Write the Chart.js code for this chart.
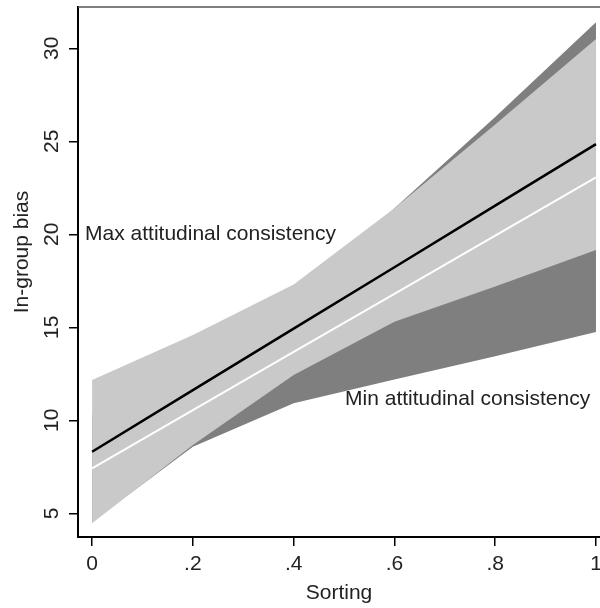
<!DOCTYPE html>
<html>
<head>
<meta charset="utf-8">
<script src="https://cdn.jsdelivr.net/npm/chart.js@4/dist/chart.umd.min.js"></script>
<style>
  html, body { margin: 0; padding: 0; background: #fff; }
  canvas { display: block; }
</style>
</head>
<body>
<canvas id="biasChart" width="600" height="608"></canvas>
<script>
// --- données ---
const sorting = [0, 0.2, 0.4, 0.6, 0.8, 1];
const maxFit = [8.31, 11.62, 14.93, 18.23, 21.54, 24.85];
const maxLower = [4.46, 8.67, 12.44, 15.3, 17.2, 19.15];
const maxUpper = [12.17, 14.59, 17.3, 21.4, 25.9, 30.5];
const minFit = [7.42, 10.55, 13.68, 16.8, 19.93, 23.06];
const minLower = [4.55, 8.58, 10.92, 12.2, 13.45, 14.75];
const minUpper = [10.3, 12.5, 16.44, 21.4, 26.3, 31.4];
const yTickValues = [5, 10, 15, 20, 25, 30];

const FONT = '"Liberation Sans", Arial, sans-serif';
const TEXT = '#222';

const pts = (ys) => sorting.map((x, i) => ({ x: x, y: ys[i] }));

function band(values, color, fill) {
    return { data: pts(values), borderWidth: 0, pointRadius: 0, backgroundColor: color, fill: fill, tension: 0 };
}

// textes dessinés à la main : étiquettes Y tournées, titre Y, libellés des courbes, bord du haut
const extrasPlugin = {
    id: 'extras',
    afterDraw(chart) {
        const ctx = chart.ctx;
        const y = chart.scales.y;
        const x = chart.scales.x;
        const area = chart.chartArea;
        ctx.save();

        // ligne du haut (cadre)
        ctx.strokeStyle = '#555';
        ctx.lineWidth = 1.5;
        ctx.beginPath();
        ctx.moveTo(area.left, area.top);
        ctx.lineTo(area.right, area.top);
        ctx.stroke();

        ctx.fillStyle = TEXT;
        ctx.font = `21px ${FONT}`;
        ctx.textAlign = 'center';
        ctx.textBaseline = 'middle';
        yTickValues.forEach(v => {
            ctx.save();
            ctx.translate(52, y.getPixelForValue(v));
            ctx.rotate(-Math.PI / 2);
            ctx.fillText(String(v), 0, 0);
            ctx.restore();
        });

        ctx.save();
        ctx.translate(22, 252);
        ctx.rotate(-Math.PI / 2);
        ctx.fillText('In-group bias', 0, 0);
        ctx.restore();

        ctx.textAlign = 'left';
        ctx.fillText('Max attitudinal consistency', x.getPixelForValue(-0.014), y.getPixelForValue(19.98));
        ctx.fillText('Min attitudinal consistency', x.getPixelForValue(0.502), y.getPixelForValue(11.12));
        ctx.restore();
    }
};

new Chart(document.getElementById('biasChart'), {
    type: 'line',
    data: {
        datasets: [
            { data: pts(maxFit), borderColor: '#000', borderWidth: 2.5, pointRadius: 0, fill: false, tension: 0 },
            { data: pts(minFit), borderColor: '#fff', borderWidth: 2, pointRadius: 0, fill: false, tension: 0 },
            band(maxUpper, '#c9c9c9', '+1'),
            band(maxLower, '#c9c9c9', false),
            band(minUpper, '#7f7f7f', '+1'),
            band(minLower, '#7f7f7f', false)
        ]
    },
    options: {
        responsive: false,
        animation: false,
        layout: { padding: { top: 7, right: 0, bottom: 0, left: 0 } },
        plugins: { legend: { display: false }, tooltip: { enabled: false } },
        scales: {
            x: {
                type: 'linear',
                min: -0.028,
                max: 1.008,
                afterFit: s => { s.height = 71; s.paddingLeft = 0; s.paddingRight = 0; },
                border: { display: true, color: '#000', width: 2 },
                grid: { drawOnChartArea: false, drawTicks: true, tickLength: 9, color: '#000', lineWidth: 1.5 },
                ticks: {
                    stepSize: 0.2,
                    includeBounds: false,
                    padding: 6,
                    maxRotation: 0,
                    color: TEXT,
                    font: { size: 21, family: FONT },
                    callback: v => {
                        const r = Math.round(v * 10) / 10;
                        if (r === 0) return '0';
                        if (r === 1) return '1';
                        return r.toFixed(1).replace(/^0/, '');
                    }
                },
                title: { display: true, text: 'Sorting', color: TEXT, font: { size: 21, family: FONT }, padding: { top: 0, bottom: 2 } }
            },
            y: {
                type: 'linear',
                min: 3.726,
                max: 32.22,
                afterFit: s => { s.width = 78; s.paddingTop = 0; s.paddingBottom = 0; },
                border: { display: true, color: '#000', width: 2 },
                grid: { drawOnChartArea: false, drawTicks: true, tickLength: 9, color: '#000', lineWidth: 1.5 },
                ticks: { stepSize: 5, includeBounds: false, display: false }
            }
        }
    },
    plugins: [extrasPlugin]
});
</script>
</body>
</html>
